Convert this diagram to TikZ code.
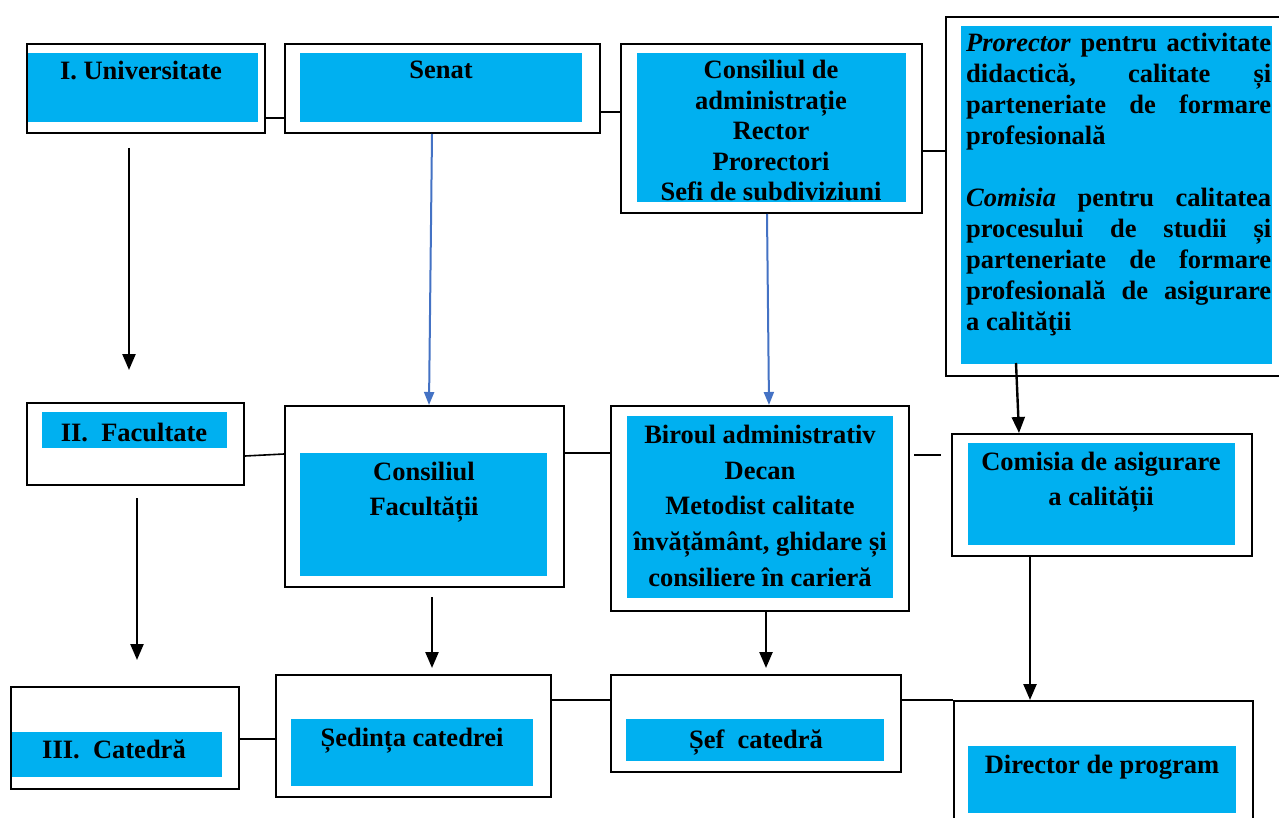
\documentclass[tikz,border=0pt]{standalone}
\usepackage{fontspec}
\setmainfont{Liberation Serif}
\usetikzlibrary{arrows.meta}
\definecolor{boxblue}{HTML}{00B0F0}
\definecolor{arrblue}{HTML}{4472C4}
\newcommand\lblfont[1]{\bfseries\fontsize{26.5}{#1}\selectfont}
\begin{document}
\begin{tikzpicture}[x=1pt,y=-1pt,
 box/.style={draw=black, line width=2pt, fill=white, inner sep=0pt, anchor=north west},
 lbl/.style={font={\lblfont{31}}, align=center, inner sep=0pt, anchor=north},
 prose/.style={font={\lblfont{31}\hyphenpenalty=10000\exhyphenpenalty=10000}, text width=305pt, align=justify, inner sep=0pt, anchor=north west},
 link/.style={draw=black, line width=1.6pt},
 arr/.style={draw=black, line width=2.4pt, -{Triangle[length=16pt,width=13pt]}},
 barr/.style={draw=arrblue, line width=2pt, -{Triangle[length=13pt,width=10pt]}},
 bluefill/.style={fill=boxblue}]
\clip (0,0) rectangle (1279,818);
\fill[white] (0,0) rectangle (1279,818);

% outer boxes
\node[box, minimum width=238pt, minimum height=89pt] (univ) at (26,43) {};
\node[box, minimum width=315pt, minimum height=89pt] (senat) at (284,43) {};
\node[box, minimum width=301pt, minimum height=169pt] (ca) at (620,43) {};
\node[box, minimum width=345pt, minimum height=359pt] (pro) at (945,16) {};
\node[box, minimum width=217pt, minimum height=82pt] (fac) at (26,402) {};
\node[box, minimum width=279pt, minimum height=181pt] (cf) at (284,405) {};
\node[box, minimum width=298pt, minimum height=205pt] (bir) at (610,405) {};
\node[box, minimum width=300pt, minimum height=122pt] (com) at (951,433) {};
\node[box, minimum width=228pt, minimum height=102pt] (cat) at (10,686) {};
\node[box, minimum width=275pt, minimum height=122pt] (sed) at (275,674) {};
\node[box, minimum width=290pt, minimum height=97pt] (sef) at (610,674) {};
\node[box, minimum width=299pt, minimum height=150pt] (dir) at (953,700) {};

% blue panels
\fill[bluefill] (28,53) rectangle (258,122);
\fill[bluefill] (300,53) rectangle (582,122);
\fill[bluefill] (637,53) rectangle (906,202);
\fill[bluefill] (961,26) rectangle (1272,364);
\fill[bluefill] (42,412) rectangle (227,448);
\fill[bluefill] (300,453) rectangle (547,576);
\fill[bluefill] (627,416) rectangle (893,598);
\fill[bluefill] (968,443) rectangle (1235,545);
\fill[bluefill] (12,732) rectangle (222,777);
\fill[bluefill] (291,719) rectangle (533,786);
\fill[bluefill] (626,719) rectangle (884,761);
\fill[bluefill] (968,746) rectangle (1236,813);

% texts
\node[lbl] (tuniv) at (141,61) {I. Universitate};
\node[lbl] (tsenat) at (441,61) {Senat};
\node[lbl, font={\lblfont{30.5}}] (tca) at (771,60) {Consiliul de\\administrație\\Rector\\Prorectori\\Sefi de subdiviziuni};
\node[prose] (tpro) at (966,33) {\noindent\textit{Prorector} pentru activitate\linebreak didactică, calitate și\linebreak parteneriate de formare\linebreak profesională\\[31pt]\textit{Comisia} pentru calitatea\linebreak procesului de studii și\linebreak parteneriate de formare\linebreak profesională de asigurare\linebreak a calităţii};
\node[lbl] (tfac) at (134,423) {II.~~Facultate};
\node[lbl, font={\lblfont{35}}] (tcf) at (424,462) {Consiliul\\Facultății};
\node[lbl, font={\lblfont{35.7}}] (tbir) at (760,425) {Biroul administrativ\\Decan\\Metodist calitate\\învățământ, ghidare și\\consiliere în carieră};
\node[lbl, font={\lblfont{35}}] (tcom) at (1101,452) {Comisia de asigurare\\a calității};
\node[lbl] (tcat) at (114,740) {III.~~Catedră};
\node[lbl] (tsed) at (412,728) {Ședința catedrei};
\node[lbl] (tsef) at (756,730) {Șef~~catedră};
\node[lbl] (tdir) at (1102,755) {Director de program};

% connectors
\draw[link] (univ.east |- 0,118) -- (senat.west |- 0,118);
\draw[link] (senat.east |- 0,112) -- (ca.west |- 0,112);
\draw[link] (ca.east |- 0,151) -- (pro.west |- 0,151);
\draw[link] (fac.east |- 0,456) -- (cf.west |- 0,454);
\draw[link] (cf.east |- 0,453) -- (bir.west |- 0,453);
\draw[link, shorten <=4pt, shorten >=10pt] (bir.east |- 0,455) -- (com.west |- 0,455);
\draw[link] (cat.east |- 0,739) -- (sed.west |- 0,739);
\draw[link] (sed.east |- 0,700) -- (sef.west |- 0,700);
\draw[link] (sef.east |- 0,700) -- (dir.north west);

% arrows
\coordinate (a1s) at (129,148);
\coordinate (a1e) at (129,370);
\coordinate (a2s) at (137,498);
\coordinate (a2e) at (137,660);
\coordinate (a4s) at (432,597);
\coordinate (a4e) at (432,668);
\coordinate (a5e) at (766,668);
\coordinate (b1s) at (432,134);
\coordinate (b2s) at (767,214);
\coordinate (a3s) at (1016,363);
\draw[arr] (a1s) -- (a1e);
\draw[arr] (a2s) -- (a2e);
\draw[arr] (a4s) -- (a4e);
\draw[arr] (bir.south -| a5e) -- (a5e);
\draw[barr] (b1s) -- (cf.north -| 429,0);
\draw[barr] (b2s) -- (bir.north -| 769,0);
\draw[arr] (a3s) -- (com.north -| 1019,0);
\draw[arr] (com.south -| 1030,0) -- (dir.north -| 1030,0);
\end{tikzpicture}
\end{document}
